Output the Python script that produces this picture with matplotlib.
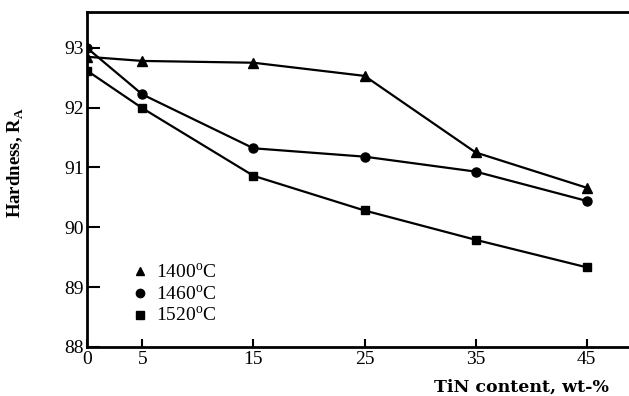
import matplotlib
matplotlib.use("Agg")
from matplotlib import pyplot as plt

plt.rcParams["font.family"] = ["Liberation Serif", "DejaVu Serif"]
plt.rcParams["mathtext.fontset"] = "custom"
plt.rcParams["mathtext.rm"] = "Liberation Serif"
plt.rcParams["mathtext.bf"] = "Liberation Serif:bold"

tin = [0, 5, 15, 25, 35, 45]
h1400 = [92.85, 92.78, 92.75, 92.53, 91.25, 90.66]
h1460 = [93.0, 92.22, 91.32, 91.18, 90.93, 90.44]
h1520 = [92.62, 91.99, 90.86, 90.28, 89.79, 89.33]
labels = ["1400$^{\\rm o}$C", "1460$^{\\rm o}$C", "1520$^{\\rm o}$C"]

fig = plt.figure(figsize=(6.29, 3.96), dpi=100)
ax = fig.add_axes([0.138, 0.124, 0.862, 0.846])

ax.plot(tin, h1400, "k-", marker="^", ms=7, lw=1.6)
ax.plot(tin, h1460, "k-", marker="o", ms=6.5, lw=1.6)
ax.plot(tin, h1520, "k-", marker="s", ms=6, lw=1.6)

# legend shows markers only
hs = [ax.plot([], [], "k", ls="none", marker=m, ms=s)[0]
      for m, s in zip(["^", "o", "s"], [6, 6, 5.5])]
ax.legend(hs, labels, loc="lower left", bbox_to_anchor=(0.07, 0.04),
          frameon=False, fontsize=14, handlelength=0.8, handletextpad=0.4,
          labelspacing=0.12, borderaxespad=0)

ax.set_xlim(0, 48.8)
ax.set_ylim(88, 93.6)
ax.set_xticks(tin)
ax.set_yticks([88, 89, 90, 91, 92, 93])
ax.tick_params(direction="in", labelsize=14, width=1.5)
ax.tick_params(axis="y", length=9, pad=2)
ax.tick_params(axis="x", length=6, pad=3)
ax.spines["right"].set_visible(False)
for s in ["left", "top", "bottom"]:
    ax.spines[s].set_linewidth(2)

ax.set_ylabel("Hardness, R$_\\mathbf{A}$", fontsize=13.5, fontweight="bold")
ax.yaxis.set_label_coords(-0.112, 0.55)
ax.set_xlabel("TiN content, wt-%", ha="right", va="top", fontsize=12.5,
              fontweight="bold", family="DejaVu Serif")
ax.xaxis.set_label_coords(0.962, -0.095)

fig.savefig("out.png", dpi=100)
